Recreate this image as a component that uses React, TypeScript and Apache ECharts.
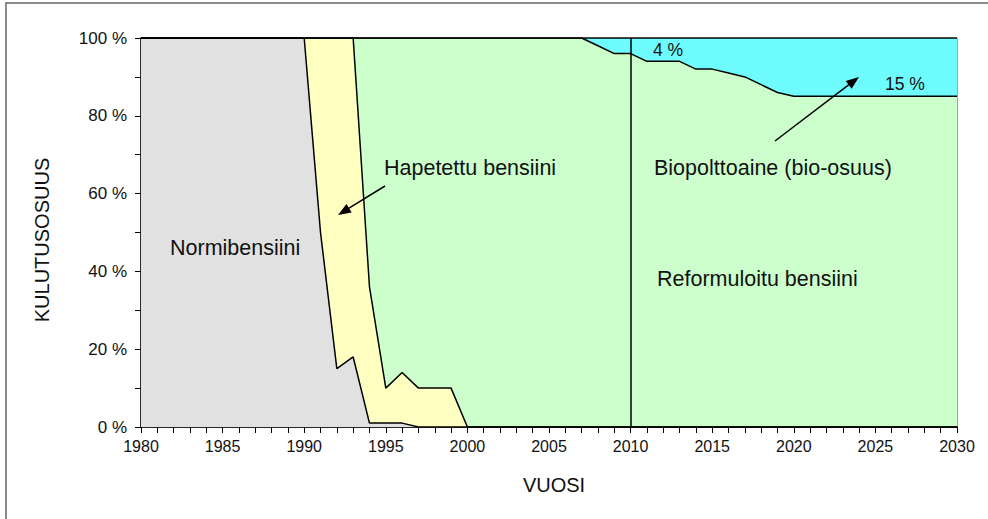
import React, { useEffect, useRef } from "react";
import * as echarts from "echarts";

const years = [
  1980, 1981, 1982, 1983, 1984, 1985, 1986, 1987, 1988, 1989,
  1990, 1991, 1992, 1993, 1994, 1995, 1996, 1997, 1998, 1999,
  2000, 2001, 2002, 2003, 2004, 2005, 2006, 2007, 2008, 2009,
  2010, 2011, 2012, 2013, 2014, 2015, 2016, 2017, 2018, 2019,
  2020, 2021, 2022, 2023, 2024, 2025, 2026, 2027, 2028, 2029, 2030,
];

// shares in % per year
const normibensiini = [
  100, 100, 100, 100, 100, 100, 100, 100, 100, 100,
  100, 50, 15, 18, 1, 1, 1, 0, 0, 0,
  0, 0, 0, 0, 0, 0, 0, 0, 0, 0,
  0, 0, 0, 0, 0, 0, 0, 0, 0, 0,
  0, 0, 0, 0, 0, 0, 0, 0, 0, 0, 0,
];
const hapetettu = [
  0, 0, 0, 0, 0, 0, 0, 0, 0, 0,
  0, 50, 85, 82, 35, 9, 13, 10, 10, 10,
  0, 0, 0, 0, 0, 0, 0, 0, 0, 0,
  0, 0, 0, 0, 0, 0, 0, 0, 0, 0,
  0, 0, 0, 0, 0, 0, 0, 0, 0, 0, 0,
];
const reformuloitu = [
  0, 0, 0, 0, 0, 0, 0, 0, 0, 0,
  0, 0, 0, 0, 64, 90, 86, 90, 90, 90,
  100, 100, 100, 100, 100, 100, 100, 100, 98, 96,
  96, 94, 94, 94, 92, 92, 91, 90, 88, 86,
  85, 85, 85, 85, 85, 85, 85, 85, 85, 85, 85,
];
const biopolttoaine = [
  0, 0, 0, 0, 0, 0, 0, 0, 0, 0,
  0, 0, 0, 0, 0, 0, 0, 0, 0, 0,
  0, 0, 0, 0, 0, 0, 0, 0, 2, 4,
  4, 6, 6, 6, 8, 8, 9, 10, 12, 14,
  15, 15, 15, 15, 15, 15, 15, 15, 15, 15, 15,
];

const FONT = "'Liberation Sans', Arial, sans-serif";
const TXT = "#111";

function arrow(x1: number, y1: number, x2: number, y2: number) {
  const dx = x2 - x1;
  const dy = y2 - y1;
  const len = Math.sqrt(dx * dx + dy * dy);
  const ux = dx / len;
  const uy = dy / len;
  const hl = 13;
  const hw = 5;
  const bx = x2 - ux * hl;
  const by = y2 - uy * hl;
  const px = -uy;
  const py = ux;
  return [
    {
      type: "line",
      shape: { x1, y1, x2: bx + ux * 2, y2: by + uy * 2 },
      style: { stroke: "#000", lineWidth: 1.5 },
      z: 100,
    },
    {
      type: "polygon",
      shape: {
        points: [
          [x2, y2],
          [bx + px * hw, by + py * hw],
          [bx - px * hw, by - py * hw],
        ],
      },
      style: { fill: "#000" },
      z: 100,
    },
  ];
}

function txt(text: string, x: number, y: number, size: number, extra: any = {}) {
  return {
    type: "text",
    x,
    y,
    z: 100,
    style: {
      text,
      fill: TXT,
      font: `${size}px ${FONT}`,
      textVerticalAlign: "middle",
      verticalAlign: "middle",
      ...extra,
    },
  };
}

export default function App() {
  const ref = useRef<HTMLDivElement>(null);
  useEffect(() => {
    if (!ref.current) return;
    const chart = echarts.init(ref.current, null, { renderer: "svg" });
    const mk = (name: string, data: number[], color: string, extra: any = {}) => ({
      name,
      type: "line",
      stack: "total",
      symbol: "none",
      data,
      lineStyle: { color: "#000", width: 1.5 },
      areaStyle: { color, opacity: 1 },
      ...extra,
    });
    chart.setOption({
      animation: false,
      backgroundColor: "#fff",
      textStyle: { fontFamily: FONT },
      grid: {
        left: 141,
        top: 38,
        right: 31,
        bottom: 92,
        show: true,
        borderColor: "#444",
        borderWidth: 1,
        backgroundColor: "transparent",
      },
      xAxis: {
        type: "category",
        boundaryGap: false,
        data: years.map(String),
        axisLine: { show: true, onZero: false, lineStyle: { color: "#000", width: 1.5 } },
        axisTick: { show: true, interval: 0, length: 6, lineStyle: { color: "#000", width: 1 } },
        axisLabel: {
          color: TXT,
          fontSize: 16,
          fontFamily: FONT,
          margin: 11,
          interval: 4,
        },
        splitLine: { show: false },
      },
      yAxis: {
        type: "value",
        min: 0,
        max: 100,
        interval: 10,
        axisLine: { show: true, lineStyle: { color: "#000", width: 1.5 } },
        axisTick: { show: true, length: 6, lineStyle: { color: "#000", width: 1 } },
        axisLabel: {
          color: TXT,
          fontSize: 17,
          fontFamily: FONT,
          margin: 14,
          formatter: (v: number) => (v % 20 === 0 ? `${v} %` : ""),
        },
        splitLine: { show: false },
      },
      series: [
        mk("Normibensiini", normibensiini, "#e1e1e1"),
        mk("Hapetettu bensiini", hapetettu, "#ffffc2"),
        mk("Reformuloitu bensiini", reformuloitu, "#ccffcc"),
        mk("Biopolttoaine", biopolttoaine, "#6ffcff", {
          markLine: {
            silent: true,
            symbol: "none",
            label: { show: false },
            lineStyle: { color: "#000", width: 1.5, type: "solid" },
            data: [{ xAxis: "2010" }],
          },
        }),
      ],
      graphic: [
        {
          type: "rect",
          shape: { x: 6, y: 3, width: 1200, height: 800 },
          style: { fill: "none", stroke: "#666", lineWidth: 1.5 },
          z: 0,
        },
        txt("Normibensiini", 170, 248, 21.5),
        txt("Hapetettu bensiini", 384, 168, 21.5),
        txt("Biopolttoaine (bio-osuus)", 654, 168, 21.5),
        txt("Reformuloitu bensiini", 657, 279, 21.5),
        txt("4 %", 653, 50, 17.5),
        txt("15 %", 885, 84, 17.5),
        txt("VUOSI", 554, 485, 20, { align: "center", textAlign: "center" }),
        {
          type: "text",
          x: 42,
          y: 240,
          rotation: Math.PI / 2,
          z: 100,
          style: {
            text: "KULUTUSOSUUS",
            fill: TXT,
            font: `20px ${FONT}`,
            align: "center",
            textAlign: "center",
            verticalAlign: "middle",
            textVerticalAlign: "middle",
          },
        },
        ...arrow(385, 186, 338, 215),
        ...arrow(775, 141, 859, 77),
      ],
    });
    return () => chart.dispose();
  }, []);
  return (
    <div
      ref={ref}
      style={{ position: "fixed", left: 0, top: 0, width: 988, height: 519 }}
    />
  );
}
